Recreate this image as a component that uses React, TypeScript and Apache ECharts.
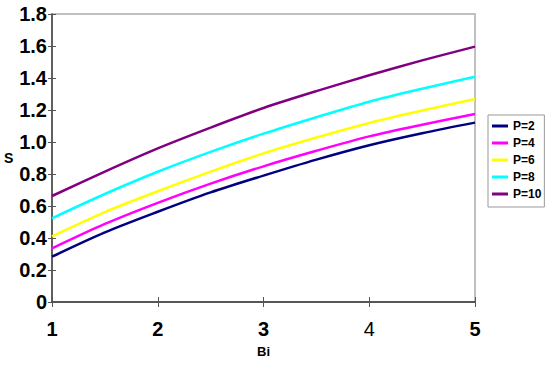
import React, { useEffect, useRef } from "react";
import * as echarts from "echarts";

const bi = [1, 1.5, 2, 2.5, 3, 3.5, 4, 4.5, 5];
const p2 = [0.283, 0.435, 0.564, 0.685, 0.79, 0.89, 0.98, 1.055, 1.121];
const p4 = [0.335, 0.488, 0.62, 0.74, 0.848, 0.945, 1.035, 1.108, 1.175];
const p6 = [0.41, 0.562, 0.692, 0.815, 0.929, 1.028, 1.119, 1.197, 1.269];
const p8 = [0.523, 0.675, 0.814, 0.938, 1.052, 1.155, 1.252, 1.333, 1.408];
const p10 = [0.6625, 0.815, 0.96, 1.09, 1.2125, 1.318, 1.417, 1.51, 1.596];
const seriesNames = ["P=2", "P=4", "P=6", "P=8", "P=10"];
const seriesColors = ["#000080", "#ff00ff", "#ffff00", "#00ffff", "#800080"];
const seriesValues = [p2, p4, p6, p8, p10];

const FONT = "'Liberation Sans', Arial, sans-serif";

export default function App() {
  const ref = useRef<HTMLDivElement>(null);
  useEffect(() => {
    document.body.style.margin = "0";
    if (!ref.current) return;
    const chart = echarts.init(ref.current, undefined, { renderer: "svg" });
    const series = seriesNames.map((name, i) => ({
      name,
      type: "line",
      xAxisIndex: 0,
      yAxisIndex: 0,
      symbol: "none",
      smooth: 0.3,
      lineStyle: { color: seriesColors[i], width: 2.5 },
      itemStyle: { color: seriesColors[i] },
      data: bi.map((x, j) => [x, seriesValues[i][j]]),
    }));
    chart.setOption({
      animation: false,
      backgroundColor: "#ffffff",
      textStyle: { fontFamily: FONT },
      grid: {
        left: 52,
        right: 75,
        top: 14,
        bottom: 67,
        show: true,
        borderColor: "#c0c0c0",
        borderWidth: 2,
        backgroundColor: "transparent",
      },
      legend: {
        orient: "vertical",
        left: 488,
        top: 115,
        icon: "rect",
        itemWidth: 16,
        itemHeight: 3,
        itemGap: 3,
        padding: [4, 3, 6, 4],
        borderColor: "#999999",
        borderWidth: 1,
        textStyle: {
          fontFamily: FONT,
          fontWeight: "bold",
          fontSize: 12,
          color: "#000",
          lineHeight: 14,
        },
        data: seriesNames,
      },
      xAxis: [
        {
          type: "value",
          min: 1,
          max: 5,
          interval: 1,
          name: "Bi",
          nameLocation: "middle",
          nameGap: 43,
          nameTextStyle: { fontFamily: FONT, fontWeight: "bold", fontSize: 13, color: "#000" },
          axisLine: { show: true, lineStyle: { color: "#333", width: 1.5 } },
          axisTick: { show: true, length: 5, lineStyle: { color: "#555" } },
          splitLine: { show: false },
          axisLabel: {
            margin: 17,
            fontFamily: FONT,
            fontWeight: "bold",
            fontSize: 20,
            color: "#000",
            formatter: (v: number) => (v === 4 ? `{n|${v}}` : `{b|${v}}`),
            rich: {
              b: { fontFamily: FONT, fontWeight: "bold", fontSize: 20, color: "#000" },
              n: { fontFamily: FONT, fontWeight: "normal", fontSize: 20, color: "#000" },
            },
          },
        },
        {
          type: "value",
          min: 1,
          max: 5,
          interval: 1,
          position: "bottom",
          axisLine: { show: false },
          axisTick: { show: true, inside: true, length: 5, lineStyle: { color: "#555" } },
          axisLabel: { show: false },
          splitLine: { show: false },
        },
      ],
      yAxis: [
        {
          type: "value",
          min: 0,
          max: 1.8,
          interval: 0.2,
          name: "S",
          nameLocation: "middle",
          nameRotate: 0,
          nameGap: 38,
          nameTextStyle: { fontFamily: FONT, fontWeight: "bold", fontSize: 14, color: "#000" },
          axisLine: { show: true, lineStyle: { color: "#404040", width: 1.5 } },
          axisTick: { show: true, length: 4, lineStyle: { color: "#555" } },
          splitLine: { show: false },
          axisLabel: {
            margin: 5,
            fontFamily: FONT,
            fontWeight: "bold",
            fontSize: 20,
            color: "#000",
            formatter: (v: number) => (v === 0 ? "0" : v.toFixed(1)),
          },
        },
        {
          type: "value",
          min: 0,
          max: 1.8,
          interval: 0.2,
          position: "left",
          axisLine: { show: false },
          axisTick: { show: true, inside: true, length: 4, lineStyle: { color: "#555" } },
          axisLabel: { show: false },
          splitLine: { show: false },
        },
      ],
      series,
    });
    return () => chart.dispose();
  }, []);
  return <div ref={ref} style={{ width: 550, height: 369 }} />;
}
